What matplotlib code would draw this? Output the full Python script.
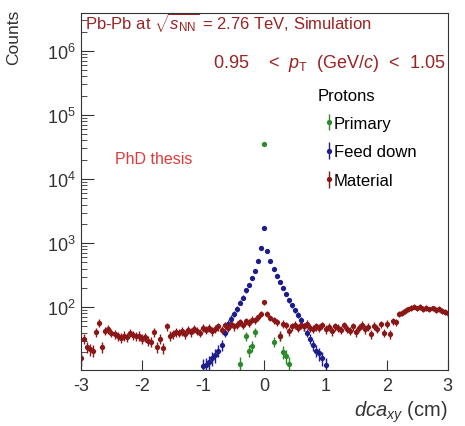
import numpy as np
import matplotlib
matplotlib.use('Agg')
import matplotlib.pyplot as plt

plt.rcParams['font.family'] = ['Liberation Sans', 'DejaVu Sans']
plt.rcParams['mathtext.fontset'] = 'custom'
plt.rcParams['mathtext.rm'] = 'Liberation Sans'
plt.rcParams['mathtext.it'] = 'Liberation Sans:italic'

# dca_xy bin centres, 0.05 cm wide
x_material = np.round(np.arange(-3.0, 3.0001, 0.05), 2)

# material: counts per bin (left to right)
material = [16, 32, 24, 22, 21, 41, 57, 24, 43, 45,
            40, 38, 35, 33, 36, 34, 40, 37, 35, 36,
            32, 34, 30, 29, 41, 24, 32, 23, 50, 36,
            38, 41, 40, 42, 38, 44, 41, 46, 43, 40,
            47, 44, 48, 42, 46, 50, 44, 52, 48, 55,
            50, 53, 58, 52, 60, 57, 64, 62, 70, 78,
            120,
            78, 68, 62, 58, 36, 55, 52, 42, 50, 53,
            48, 52, 50, 55, 48, 46, 50, 47, 52, 45,
            49, 42, 50, 47, 44, 52, 46, 43, 50, 41,
            48, 53, 45, 49, 38, 51, 46, 54, 40, 55,
            38, 60, 58, 78, 82, 88, 92, 98, 102, 96,
            100, 94, 98, 92, 96, 90, 94, 88, 85, 80]

# feed down: x from -1 to 1
x_feed = np.round(np.arange(-1.0, 1.0001, 0.05), 2)
feed = [12, 12.6, 13.8, 15.8, 17.8, 21, 26, 40, 55, 66,
        78, 95, 117, 141, 182, 219, 282, 372, 525, 830,
        1700,
        760, 525, 398, 302, 251, 200, 162, 129, 107, 89,
        76, 63, 50, 40, 32, 26, 21, 19, 16, 12.6]

# primary
x_prim = [-0.40, -0.30, -0.25, -0.20, -0.15, 0.0, 0.15, 0.25, 0.30, 0.35, 0.40]
prim = [13, 35, 21, 25, 41, 35500, 29, 35, 20, 17, 13]

fig = plt.figure(figsize=(4.65, 4.27), dpi=100)
ax = fig.add_axes([0.174, 0.131, 0.789, 0.836])

kw = dict(fmt='o', ms=3.8, elinewidth=1.0, capsize=0, mew=0)
h_prim = ax.errorbar(x_prim, prim, yerr=np.sqrt(prim), color='#2a8a2a', label='Primary', **kw)
h_feed = ax.errorbar(x_feed, feed, yerr=np.sqrt(feed), color='#1c1c8c', label='Feed down', **kw)
h_mat = ax.errorbar(x_material, material, yerr=np.sqrt(material), color='#8b1616', label='Material', **kw)

ax.set_yscale('log')
ax.set_xlim(-3, 3)
ax.set_ylim(10.4, 3.9e6)
ax.set_xticks([-3, -2, -1, 0, 1, 2, 3])
ax.set_xticklabels(['-3', '-2', '-1', '0', '1', '2', '3'])
ax.tick_params(axis='both', which='both', direction='in', labelsize=13, colors='#333333')
ax.tick_params(axis='x', which='major', length=7, pad=5)
ax.tick_params(axis='x', which='minor', length=0)
ax.tick_params(axis='y', which='major', length=9, pad=4)
ax.tick_params(axis='y', which='minor', length=4)
for s in ax.spines.values():
    s.set_color('#333333')

fig.text(14 / 465, 1 - 10 / 427, 'Counts', rotation=90, ha='center', va='top',
         fontsize=12.5, color='#333333')
ax.set_xlabel('$dca_{xy}$ (cm)', loc='right', fontsize=14.5, color='#333333')
ax.xaxis.set_label_coords(1.0, -0.08)

red = '#9b2222'
ax.text(0.012, 1.01, r'Pb-Pb at $\sqrt{s_{\rm NN}}$ = 2.76 TeV, Simulation',
        transform=ax.transAxes, ha='left', va='top', fontsize=12, color=red)
ax.text(0.995, 0.892, r'0.95    <  $p_{\rm T}$  (GeV/$c$)  <  1.05',
        transform=ax.transAxes, ha='right', va='top', fontsize=13, color=red)
ax.text(0.093, 0.592, 'PhD thesis', transform=ax.transAxes, va='center',
        fontsize=11.5, color='#e03a3a')

ax.text(0.645, 0.768, 'Protons', transform=ax.transAxes, ha='left', va='center',
        fontsize=12, color='black')
leg = ax.legend(handles=[h_prim, h_feed, h_mat], loc='upper left',
                bbox_to_anchor=(0.635, 0.745), frameon=False, fontsize=12,
                handlelength=0.4, handletextpad=0.1,
                labelspacing=0.82, borderpad=0.2)

fig.savefig('out.png', dpi=100)
